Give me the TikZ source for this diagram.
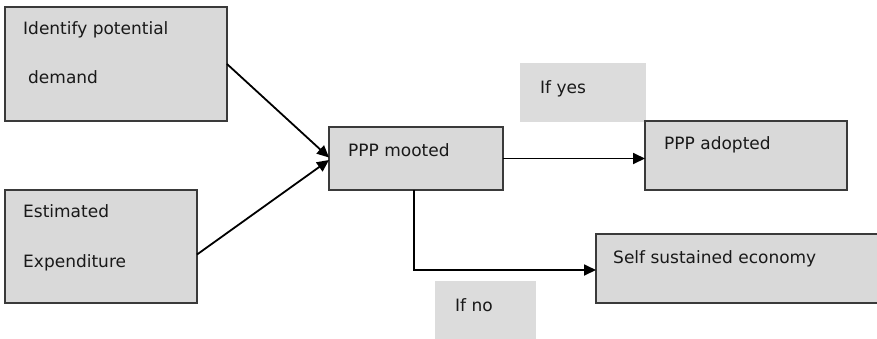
\documentclass[tikz,border=0pt]{standalone}
\usepackage{fontspec}
\setmainfont{DejaVu Sans}
\usetikzlibrary{arrows.meta}
\definecolor{boxfill}{HTML}{D9D9D9}
\definecolor{boxline}{HTML}{3A3A3A}
\definecolor{labfill}{HTML}{DCDCDC}
\tikzset{
  box/.style={draw=boxline, line width=1.8pt, fill=boxfill, rectangle, anchor=north west, inner sep=0pt, outer sep=0pt},
  labbox/.style={fill=labfill, draw=none, rectangle, anchor=north west, inner sep=0pt, outer sep=0pt},
  txt/.style={anchor=base west, inner sep=0pt, font=\fontsize{17}{20}\selectfont, text=black!90},
  conn/.style={line width=1.8pt, black, -{Triangle[length=12pt,width=11pt]}},
}
\begin{document}
\begin{tikzpicture}[x=1pt,y=-1pt]
\useasboundingbox (0,0) rectangle (877,338);
% boxes
\node[box, minimum width=222pt, minimum height=114pt] (idm) at (5,7) {};
\node[box, minimum width=192pt, minimum height=113pt] (est) at (5,190) {};
\node[box, minimum width=174pt, minimum height=63pt] (ppp) at (329,127) {};
\node[labbox, minimum width=126pt, minimum height=59pt] (yes) at (520,63) {};
\node[box, minimum width=202pt, minimum height=69pt] (adp) at (645,121) {};
\node[box, minimum width=290pt, minimum height=69pt] (self) at (596,234) {};
\node[labbox, minimum width=101pt, minimum height=65pt] (no) at (435,281) {};
% texts
\node[txt] (t1) at (23,34) {Identify potential};
\node[txt] (t2) at (28,83) {demand};
\node[txt] (t3) at (23,217) {Estimated};
\node[txt] (t4) at (23,267) {Expenditure};
\node[txt] (t5) at (348,156) {PPP mooted};
\node[txt] (t6) at (540,93) {If yes};
\node[txt] (t7) at (664,149) {PPP adopted};
\node[txt] (t8) at (613,263) {Self sustained economy};
\node[txt] (t9) at (455,311) {If no};
% connectors
\draw[conn] (idm.east) -- ([yshift=1pt]ppp.west);
\draw[conn] ([yshift=-8pt]est.east) -- ([yshift=-1.5pt]ppp.west);
\draw[conn] (ppp.east) -- (ppp.east -| adp.west);
\draw[conn] ([xshift=-2pt]ppp.south) |- ([yshift=-1.5pt]self.west);
\end{tikzpicture}
\end{document}
